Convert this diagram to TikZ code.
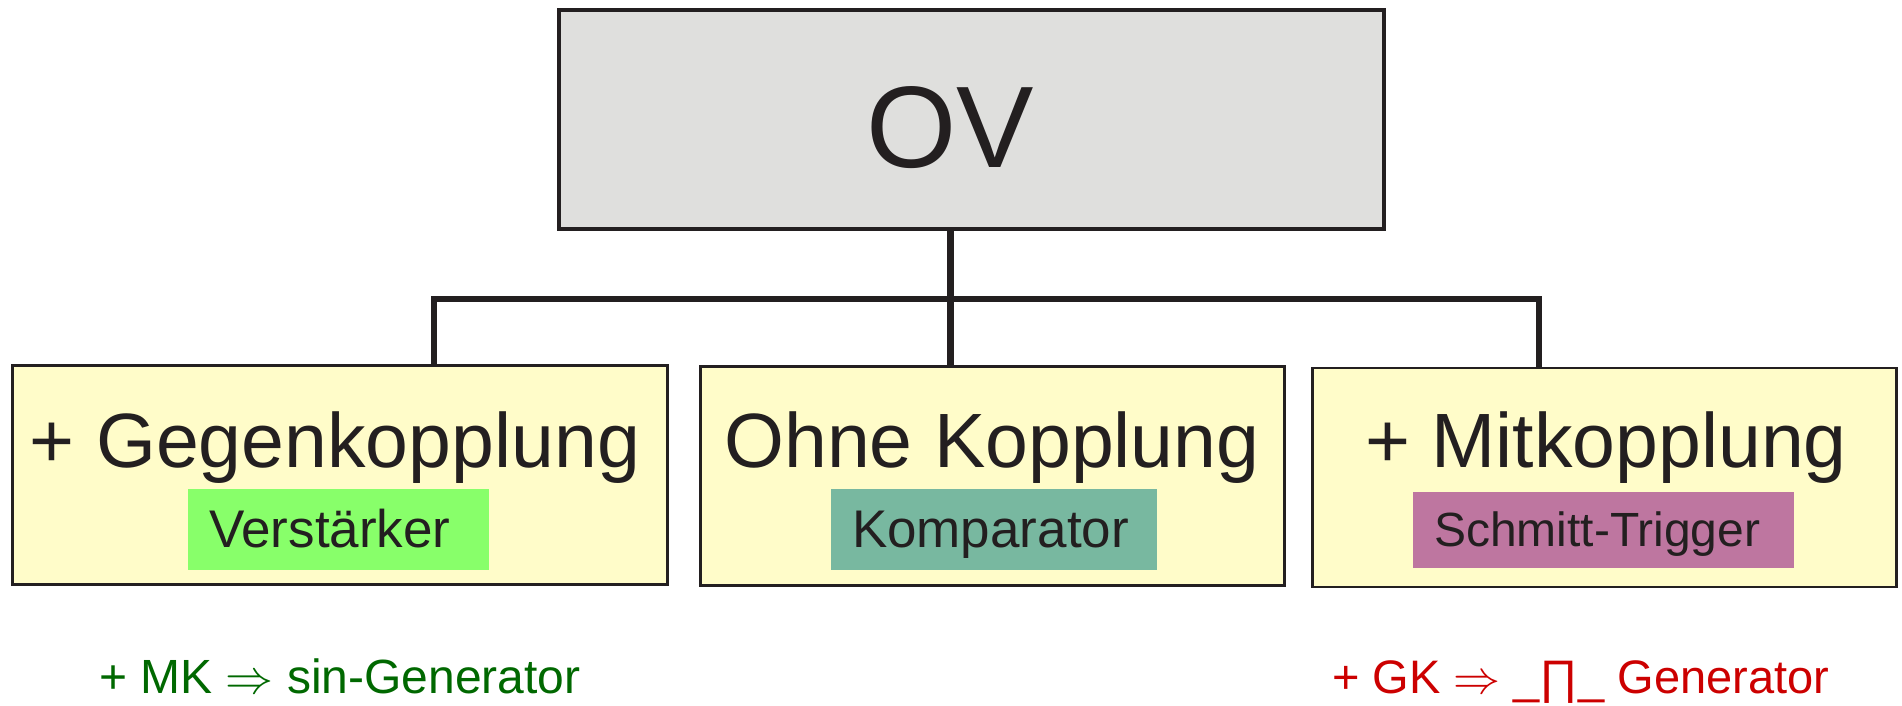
\RequirePackage{fix-cm}
\documentclass[tikz,border=0pt]{standalone}
\usepackage{fontspec}
\setmainfont{Liberation Sans}

\definecolor{ink}{RGB}{35,31,32}
\definecolor{paper}{RGB}{255,252,201}
\definecolor{ovgrey}{RGB}{223,223,221}
\definecolor{ampfill}{RGB}{136,255,106}
\definecolor{compfill}{RGB}{120,184,160}
\definecolor{trigfill}{RGB}{190,118,160}
\definecolor{gentext}{RGB}{0,104,0}
\definecolor{pulsetext}{RGB}{204,0,0}

\begin{document}
\begin{tikzpicture}[x=1pt,y=-1pt,
  ovbox/.style={draw=ink, line width=3.5pt, fill=ovgrey, inner sep=0pt,
    minimum width=825pt, minimum height=219pt},
  modebox/.style={draw=ink, line width=2.5pt, fill=paper, inner sep=0pt,
    minimum width=#1, minimum height=219pt},
  title/.style={anchor=base, inner sep=0pt, text=ink,
    font=\fontsize{77}{90}\selectfont},
  tag/.style={fill=#1, text=ink, inner ysep=0pt, inner xsep=21pt, align=left,
    text depth=0pt},
  bar/.style={draw=ink, line width=6.5pt, line join=miter},
  stem/.style={draw=ink, line width=7pt},
  note/.style={anchor=base west, inner sep=0pt,
    font=\fontsize{48}{56}\selectfont}]

\useasboundingbox (0,0) rectangle (1902,705);

% top block
\node[ovbox] (ov) at (971.5,119.5) {};
\node[anchor=base, inner sep=0pt, text=ink,
  font=\fontsize{116}{130}\selectfont] (ovlabel) at (950,167) {OV};

% the three circuit modes
\node[modebox=655pt] (gk) at (340,475) {};
\node[modebox=584pt] (ok) at (992.5,476) {};
\node[modebox=584pt] (mk) at (1604.5,477.5) {};

\node[title] (gktitle) at (335,467) {+ Gegenkopplung};
\node[title] (oktitle) at (992,467) {Ohne Kopplung};
\node[title] (mktitle) at (1606,467) {+ Mitkopplung};

% resulting circuits
\node[tag=ampfill, text width=259pt, minimum height=81pt, text height=36pt,
  font=\fontsize{53}{60}\selectfont] (amp) at (338.5,529.5) {Verstärker};
\node[tag=compfill, text width=284pt, minimum height=81pt, text height=36pt,
  font=\fontsize{53}{60}\selectfont] (comp) at (994,529.5) {Komparator};
\node[tag=trigfill, text width=339pt, minimum height=76pt, text height=32pt,
  font=\fontsize{48}{56}\selectfont] (trig) at (1603.5,530) {Schmitt-Trigger};

% tree connectors
\coordinate (jl) at (434,299);
\coordinate (jr) at (1539,299);
\draw[bar] (gk.north -| jl) -- (jl) -- (jr) -- (mk.north -| jr);
\draw[stem] (ovlabel |- ov.south) -- (ovlabel |- ok.north);

% generator notes
\node[note, text=gentext] (singen) at (99,693) {+ MK $\Rightarrow$ sin-Generator};
\node[note, text=pulsetext, font=\fontsize{47}{56}\selectfont] (pulsegen)
  at (1332,693) {+ GK $\Rightarrow$ \_∏\_ Generator};
\end{tikzpicture}
\end{document}
